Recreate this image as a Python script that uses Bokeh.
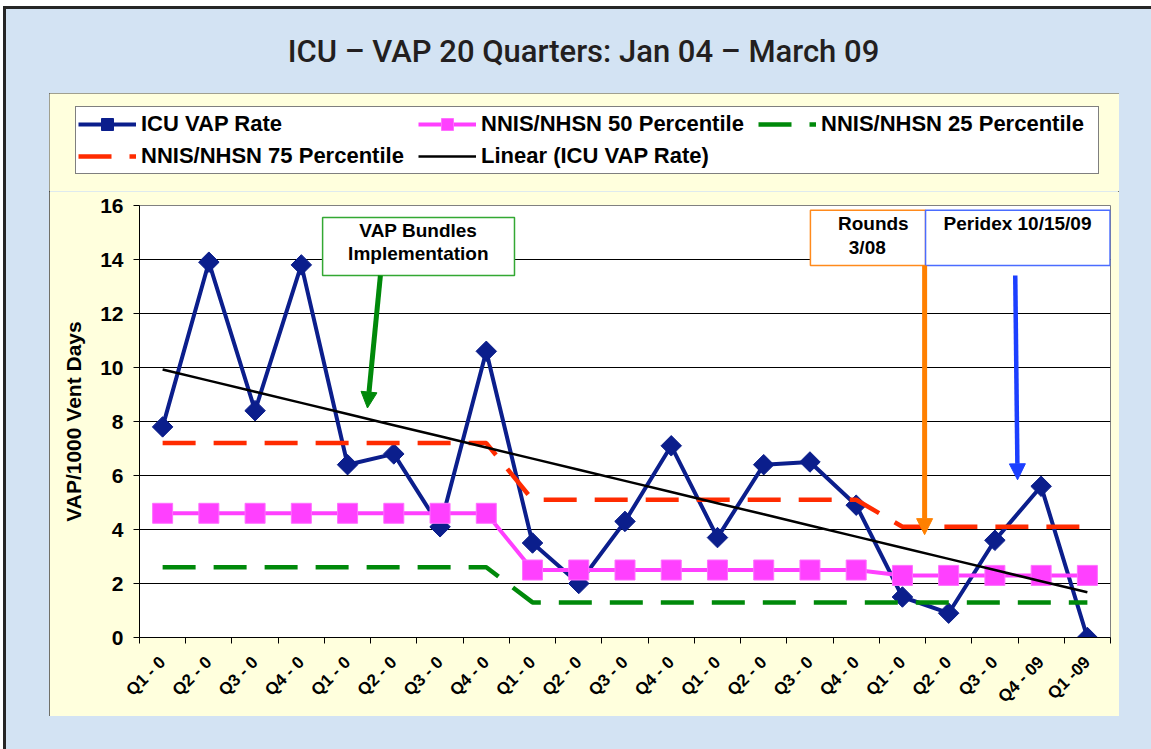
import numpy as np
from math import pi
from bokeh.plotting import figure
from bokeh.models import (Legend, LegendItem, FixedTicker, Range1d, BoxAnnotation,
                          Label, Arrow, NormalHead, Div, Column)
from bokeh.embed import file_html
from bokeh.resources import INLINE

# ---------------- data ----------------
quarters = ["Q1 - 0", "Q2 - 0", "Q3 - 0", "Q4 - 0",
            "Q1 - 0", "Q2 - 0", "Q3 - 0", "Q4 - 0",
            "Q1 - 0", "Q2 - 0", "Q3 - 0", "Q4 - 0",
            "Q1 - 0", "Q2 - 0", "Q3 - 0", "Q4 - 0",
            "Q1 - 0", "Q2 - 0", "Q3 - 0", "Q4 - 09", "Q1 -09"]
icu_vap_rate = [7.8, 13.9, 8.4, 13.8, 6.4, 6.8, 4.1, 10.6, 3.5, 2.0, 4.3,
                7.1, 3.7, 6.4, 6.5, 4.9, 1.5, 0.9, 3.6, 5.6, 0.0]
nnis_50 = [4.6, 4.6, 4.6, 4.6, 4.6, 4.6, 4.6, 4.6, 2.5, 2.5, 2.5,
           2.5, 2.5, 2.5, 2.5, 2.5, 2.3, 2.3, 2.3, 2.3, 2.3]
nnis_25 = [2.6, 2.6, 2.6, 2.6, 2.6, 2.6, 2.6, 2.6, 1.3, 1.3, 1.3,
           1.3, 1.3, 1.3, 1.3, 1.3, 1.3, 1.3, 1.3, 1.3, 1.3]
nnis_75 = [7.2, 7.2, 7.2, 7.2, 7.2, 7.2, 7.2, 7.2, 5.1, 5.1, 5.1,
           5.1, 5.1, 5.1, 5.1, 5.1, 4.1, 4.1, 4.1, 4.1, 4.1]
y_ticks = [0, 2, 4, 6, 8, 10, 12, 14, 16]

x = list(range(1, len(quarters) + 1))
slope, intercept = np.polyfit(x, icu_vap_rate, 1)
trend = [slope * xi + intercept for xi in x]

# ---------------- styles ----------------
NAVY = "#0b1e8c"
MAGENTA = "#ff40ff"
GREEN = "#00890a"
RED = "#ff2b00"
ORANGE = "#ff8000"
BLUE = "#1c3fff"
YELLOW = "#ffffdd"
BG = "#d3e3f3"
FONT = "Liberation Sans"


def draw_series(fig):
    r = {}
    r["icu_line"] = fig.line(x, icu_vap_rate, line_color=NAVY, line_width=4)
    r["icu_pts"] = fig.scatter(x, icu_vap_rate, marker="square", angle=pi / 4, size=14.5,
                               fill_color=NAVY, line_color=NAVY)
    r["p50_line"] = fig.line(x, nnis_50, line_color=MAGENTA, line_width=4)
    r["p50_pts"] = fig.scatter(x, nnis_50, marker="square", size=20, fill_color=MAGENTA,
                               line_color="#ff70ff", line_width=1)
    r["p25_line"] = fig.line(x, nnis_25, line_color=GREEN, line_width=4.5, line_dash="33 18")
    r["p75_line"] = fig.line(x, nnis_75, line_color=RED, line_width=4.5, line_dash="33 18")
    r["trend"] = fig.line(x, trend, line_color="black", line_width=2.5)
    return r


def no_align(fig):
    if "frame_align" in fig.properties():
        fig.frame_align = False


# ---------------- main chart ----------------
p = figure(width=1070, height=525, x_range=Range1d(0.5, 21.5), y_range=Range1d(0, 16),
           output_backend="svg", toolbar_location=None,
           min_border_left=90, min_border_right=9, min_border_top=14, min_border_bottom=78,
           background_fill_color="white", border_fill_color=YELLOW,
           outline_line_color="#808080")
p.margin = (0, 0, 0, 0)
no_align(p)

p.yaxis.ticker = FixedTicker(ticks=y_ticks)
p.ygrid.ticker = FixedTicker(ticks=y_ticks)
p.ygrid.grid_line_color = "black"
p.ygrid.grid_line_width = 1
p.xgrid.grid_line_color = None
p.yaxis.axis_label = "VAP/1000 Vent Days"
p.yaxis.axis_label_text_font = FONT
p.yaxis.axis_label_text_font_style = "bold"
p.yaxis.axis_label_text_font_size = "21px"
p.yaxis.axis_label_text_color = "black"
p.yaxis.axis_label_standoff = 12
p.yaxis.major_label_text_font = FONT
p.yaxis.major_label_text_font_style = "bold"
p.yaxis.major_label_text_font_size = "21px"
p.yaxis.major_label_text_color = "black"
p.yaxis.major_label_standoff = 10
p.yaxis.major_tick_out = 6
p.yaxis.major_tick_in = 0
p.yaxis.minor_tick_line_color = None
p.yaxis.axis_line_color = "black"
p.yaxis.major_tick_line_color = "black"

p.xaxis.ticker = FixedTicker(ticks=x, minor_ticks=[i + 0.5 for i in range(0, len(x) + 1)])
p.xaxis.major_label_overrides = {i: q for i, q in zip(x, quarters)}
p.xaxis.major_label_orientation = pi / 4
p.xaxis.major_label_text_font = FONT
p.xaxis.major_label_text_font_style = "bold"
p.xaxis.major_label_text_font_size = "17px"
p.xaxis.major_label_text_color = "black"
p.xaxis.major_label_standoff = 16
p.xaxis.major_tick_out = 0
p.xaxis.major_tick_in = 0
p.xaxis.minor_tick_out = 6
p.xaxis.minor_tick_in = 0
p.xaxis.minor_tick_line_color = "black"
p.xaxis.axis_line_color = "black"

draw_series(p)

# annotation boxes
p.add_layout(BoxAnnotation(left=4.46, right=8.61, bottom=13.41, top=15.56,
                           fill_color="white", fill_alpha=1, line_color="#33a833",
                           line_alpha=1, line_width=1.5))
p.add_layout(BoxAnnotation(left=15.01, right=17.50, bottom=13.78, top=15.82,
                           fill_color="white", fill_alpha=1, line_color="#ff8a1c",
                           line_alpha=1, line_width=1.5))
p.add_layout(BoxAnnotation(left=17.50, right=21.49, bottom=13.78, top=15.82,
                           fill_color="white", fill_alpha=1, line_color="#4a6cff",
                           line_alpha=1, line_width=1.5))


def lab(xx, yy, t):
    p.add_layout(Label(x=xx, y=yy, text=t, text_font=FONT, text_font_style="bold",
                       text_font_size="19px", text_color="black",
                       text_align="center", text_baseline="middle"))


lab(6.53, 15.08, "VAP Bundles")
lab(6.53, 14.23, "Implementation")
lab(16.37, 15.34, "Rounds")
lab(16.24, 14.45, "3/08")
lab(19.49, 15.34, "Peridex 10/15/09")

# arrows
p.add_layout(Arrow(end=NormalHead(size=16, fill_color=GREEN, line_color=GREEN),
                   x_start=5.71, y_start=13.41, x_end=5.43, y_end=8.50,
                   line_color=GREEN, line_width=5))
p.add_layout(Arrow(end=NormalHead(size=16, fill_color=ORANGE, line_color=ORANGE),
                   x_start=17.48, y_start=13.78, x_end=17.48, y_end=3.81,
                   line_color=ORANGE, line_width=5))
p.add_layout(Arrow(end=NormalHead(size=16, fill_color=BLUE, line_color=BLUE),
                   x_start=19.44, y_start=13.41, x_end=19.49, y_end=5.84,
                   line_color=BLUE, line_width=4.5))

# ---------------- legend strip (same series, kept out of view) ----------------
lf = figure(width=1070, height=98, x_range=Range1d(-100, -99), y_range=Range1d(-100, -99),
            output_backend="svg", toolbar_location=None,
            x_axis_location=None, y_axis_location=None,
            min_border_left=0, min_border_right=0, min_border_top=0, min_border_bottom=0,
            background_fill_color=YELLOW, border_fill_color=YELLOW, outline_line_color=None)
lf.margin = (0, 0, 0, 0)
lf.grid.visible = False
no_align(lf)
lr = draw_series(lf)

legend = Legend(items=[
    LegendItem(label="ICU VAP Rate", renderers=[lr["icu_line"], lr["icu_pts"]]),
    LegendItem(label="NNIS/NHSN 50 Percentile", renderers=[lr["p50_line"], lr["p50_pts"]]),
    LegendItem(label="NNIS/NHSN 25 Percentile", renderers=[lr["p25_line"]]),
    LegendItem(label="NNIS/NHSN 75 Percentile", renderers=[lr["p75_line"]]),
    LegendItem(label="Linear (ICU VAP Rate)", renderers=[lr["trend"]]),
], location=(26, 17), orientation="horizontal", ncols=3)
legend.label_text_font = FONT
legend.label_text_font_style = "bold"
legend.label_text_font_size = "22px"
legend.label_text_color = "black"
legend.glyph_width = 58
legend.glyph_height = 30
legend.label_height = 30
legend.label_width = 275
legend.label_standoff = 5
legend.spacing = 2
legend.padding = 2
legend.margin = 0
legend.border_line_color = "black"
legend.border_line_width = 1
legend.background_fill_color = "white"
legend.background_fill_alpha = 1
lf.add_layout(legend)

chart = Column(children=[lf, p], margin=(0, 0, 0, 43),
               styles={"outline": "1px solid #404040", "outline-offset": "-1px"})

title_div = Div(
    text='<div style="width:1145px;box-sizing:border-box;padding-left:10px;padding-top:27px;'
         'text-align:center;font-family:Roboto;font-weight:500;font-size:31px;line-height:1;'
         'color:#231f20;">ICU – VAP 20 Quarters: Jan 04 – March 09</div>',
    width=1145, height=84, margin=(0, 0, 0, 0))

layout = Column(children=[title_div, chart], width=1148, height=743, margin=(6, 0, 0, 3),
                styles={"background-color": BG, "border-left": "3px solid #262626",
                        "border-top": "3px solid #262626", "box-sizing": "border-box"})

open("out.html", "w").write(file_html(layout, INLINE))
